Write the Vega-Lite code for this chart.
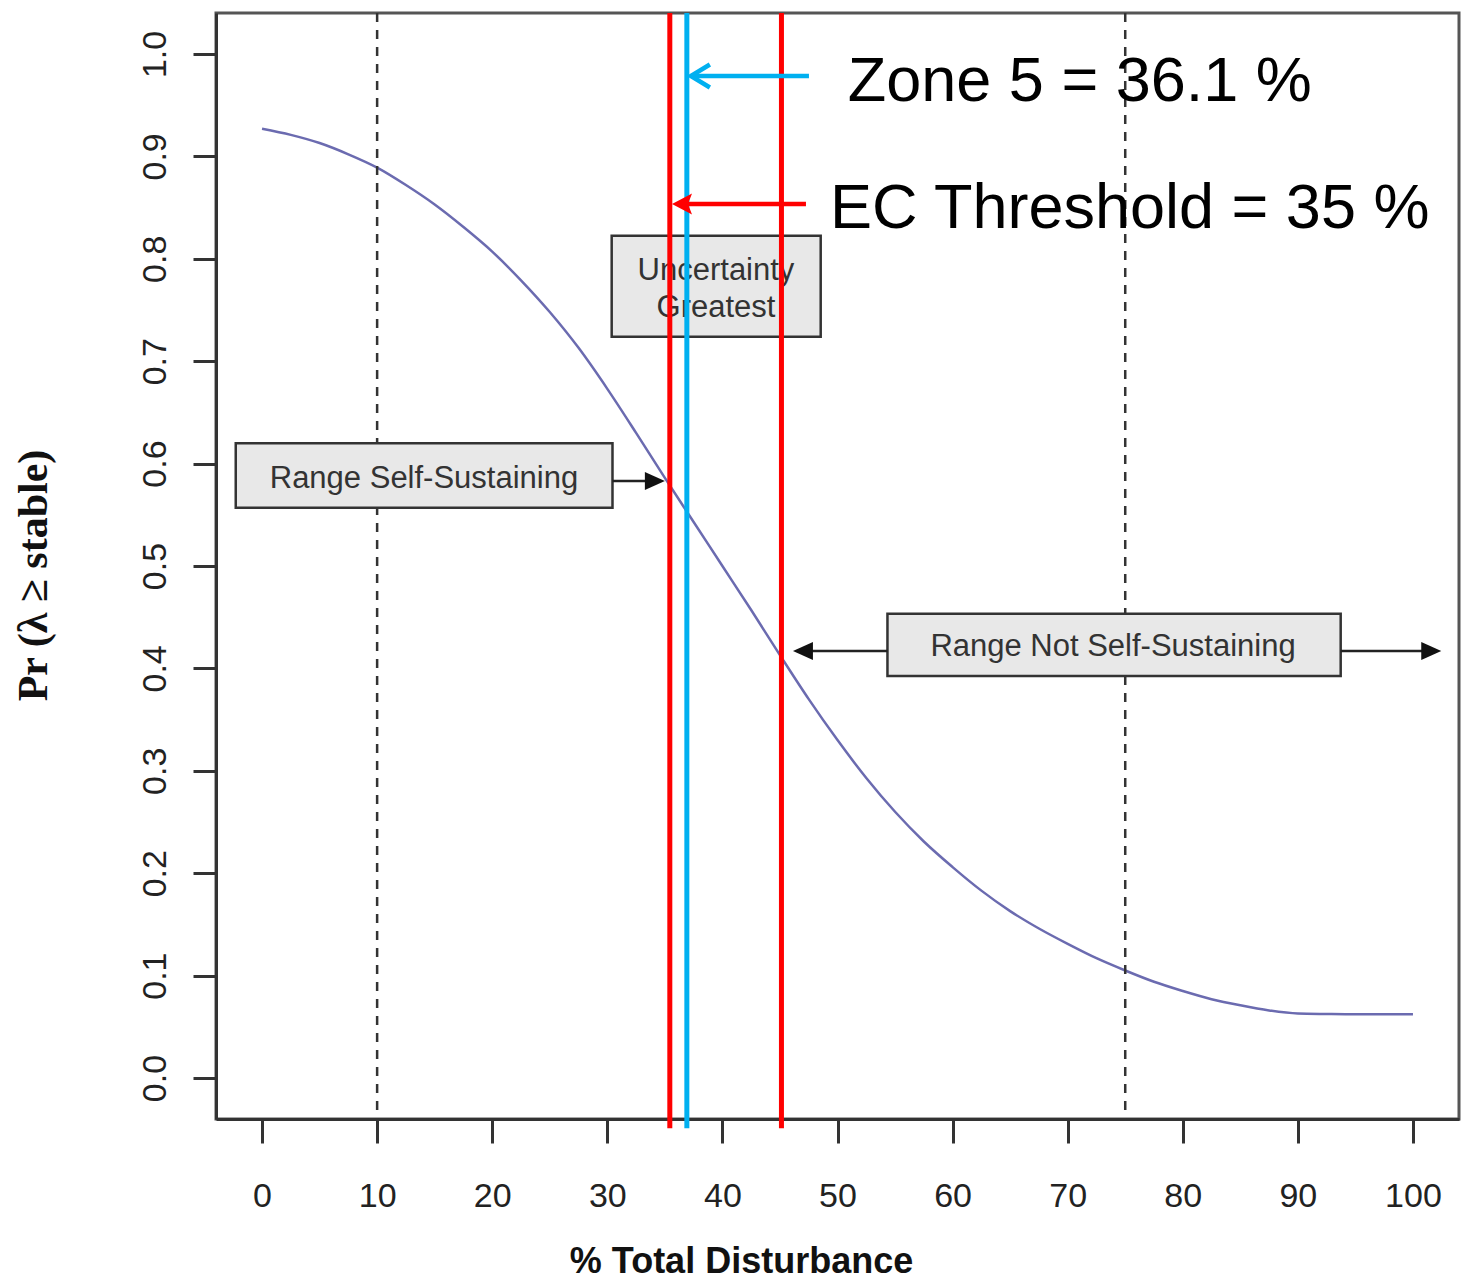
{
  "$schema": "https://vega.github.io/schema/vega-lite/v6.json",
  "autosize": "none",
  "width": 1243,
  "height": 1106,
  "padding": {"left": 216, "top": 13, "right": 4, "bottom": 162},
  "background": "white",
  "config": {"view": {"stroke": "#555", "strokeWidth": 3}},
  "datasets": {
    "curve": [
      {"x": 0, "y": 0.927}, {"x": 2.5, "y": 0.921}, {"x": 5, "y": 0.913}, {"x": 7.5, "y": 0.902},
      {"x": 10, "y": 0.889}, {"x": 12.5, "y": 0.872}, {"x": 15, "y": 0.853}, {"x": 17.5, "y": 0.831},
      {"x": 20, "y": 0.807}, {"x": 22.5, "y": 0.779}, {"x": 25, "y": 0.748}, {"x": 27.5, "y": 0.713},
      {"x": 30, "y": 0.673}, {"x": 32.5, "y": 0.630}, {"x": 35, "y": 0.586}, {"x": 37.5, "y": 0.543},
      {"x": 40, "y": 0.500}, {"x": 42.5, "y": 0.457}, {"x": 45, "y": 0.413}, {"x": 47.5, "y": 0.370},
      {"x": 50, "y": 0.330}, {"x": 52.5, "y": 0.293}, {"x": 55, "y": 0.260}, {"x": 57.5, "y": 0.231},
      {"x": 60, "y": 0.206}, {"x": 62.5, "y": 0.183}, {"x": 65, "y": 0.163}, {"x": 67.5, "y": 0.146},
      {"x": 70, "y": 0.131}, {"x": 72.5, "y": 0.117}, {"x": 75, "y": 0.105}, {"x": 77.5, "y": 0.094},
      {"x": 80, "y": 0.085}, {"x": 82.5, "y": 0.077}, {"x": 85, "y": 0.071}, {"x": 87.5, "y": 0.066},
      {"x": 90, "y": 0.063}, {"x": 92.5, "y": 0.0625}, {"x": 95, "y": 0.0622}, {"x": 97.5, "y": 0.0622},
      {"x": 100, "y": 0.0622}
    ],
    "refs": [{"x": 10}, {"x": 75}],
    "boxes": [
      {"x": 30.38, "x2": 48.54, "y": 0.8226, "y2": 0.7238},
      {"x": -2.285, "x2": 30.45, "y": 0.6198, "y2": 0.557},
      {"x": 54.34, "x2": 93.72, "y": 0.4534, "y2": 0.3926}
    ],
    "boxText": [
      {"x": 39.44, "y": 0.788, "label": "Uncertainty\nGreatest"},
      {"x": 14.07, "y": 0.585, "label": "Range Self-Sustaining"},
      {"x": 73.94, "y": 0.421, "label": "Range Not Self-Sustaining"}
    ],
    "arrows": [
      {"x": 30.45, "x2": 34.0, "y": 0.583},
      {"x": 54.34, "x2": 47.0, "y": 0.417},
      {"x": 93.72, "x2": 101.5, "y": 0.417}
    ],
    "headsRight": [{"x": 35.0, "y": 0.583}, {"x": 102.46, "y": 0.417}],
    "headsLeft": [{"x": 46.13, "y": 0.417}],
    "vlines": [
      {"x": 35.43, "line": "EC threshold"},
      {"x": 45.13, "line": "EC threshold"},
      {"x": 36.91, "line": "Zone 5"}
    ],
    "blueArrow": [{"x": 37.26, "x2": 47.52, "y": 0.9785}],
    "redArrow": [{"x": 36.8, "x2": 47.26, "y": 0.8535}],
    "redHead": [{"x": 35.62, "y": 0.8535}],
    "blueHead": [{"x": 37.26, "y": 0.9785}],
    "labels": [
      {"x": 50.89, "y": 0.9541, "label": "Zone 5 = 36.1 %"},
      {"x": 49.35, "y": 0.8301, "label": "EC Threshold = 35 %"}
    ]
  },
  "layer": [
    {
      "data": {"name": "curve"},
      "mark": {"type": "line", "color": "#6b6bb0", "strokeWidth": 2.5, "interpolate": "monotone"},
      "encoding": {
        "x": {
          "field": "x", "type": "quantitative",
          "scale": {"domain": [-4, 104], "nice": false, "zero": false},
          "axis": {
            "values": [0, 10, 20, 30, 40, 50, 60, 70, 80, 90, 100],
            "title": "% Total Disturbance",
            "grid": false,
            "domainColor": "#333", "domainWidth": 3,
            "tickColor": "#333", "tickWidth": 3, "tickSize": 24,
            "labelFont": "Liberation Sans", "labelFontSize": 34, "labelColor": "#222",
            "labelPadding": 36, "labelOverlap": false, "labelFlush": false,
            "titleFont": "Liberation Sans", "titleFontSize": 36, "titleFontWeight": "bold", "titleColor": "#111",
            "titleX": 525, "titleY": 153, "titleAlign": "center", "titleBaseline": "alphabetic"
          }
        },
        "y": {
          "field": "y", "type": "quantitative",
          "scale": {"domain": [-0.04, 1.04], "nice": false, "zero": false},
          "axis": {
            "values": [0, 0.1, 0.2, 0.3, 0.4, 0.5, 0.6, 0.7, 0.8, 0.9, 1.0],
            "format": ".1f",
            "title": "Pr (λ ≥ stable)",
            "grid": false,
            "domainColor": "#333", "domainWidth": 3,
            "tickColor": "#333", "tickWidth": 3, "tickSize": 23,
            "labelFont": "Liberation Sans", "labelFontSize": 34, "labelColor": "#222",
            "labelAngle": 270, "labelAlign": "center", "labelBaseline": "alphabetic",
            "labelPadding": 28, "labelOverlap": false, "labelFlush": false, "labelBound": false,
            "titleFont": "Liberation Serif", "titleFontSize": 42, "titleFontWeight": "bold", "titleColor": "#111",
            "titleAngle": 270, "titleX": -170, "titleY": 562, "titleAlign": "center", "titleBaseline": "alphabetic"
          }
        }
      }
    },
    {
      "data": {"name": "refs"},
      "mark": {"type": "rule", "color": "#333", "strokeWidth": 2.5, "strokeDash": [9, 8]},
      "encoding": {"x": {"field": "x", "type": "quantitative"}}
    },
    {
      "data": {"name": "boxes"},
      "mark": {"type": "rect", "fill": "#e8e8e8", "stroke": "#333", "strokeWidth": 2.5},
      "encoding": {
        "x": {"field": "x", "type": "quantitative"},
        "x2": {"field": "x2"},
        "y": {"field": "y", "type": "quantitative"},
        "y2": {"field": "y2"}
      }
    },
    {
      "data": {"name": "boxText"},
      "mark": {"type": "text", "font": "Liberation Sans", "fontSize": 31, "color": "#333", "align": "center", "baseline": "middle", "lineBreak": "\n", "lineHeight": 37},
      "encoding": {
        "x": {"field": "x", "type": "quantitative"},
        "y": {"field": "y", "type": "quantitative"},
        "text": {"field": "label"}
      }
    },
    {
      "data": {"name": "arrows"},
      "mark": {"type": "rule", "color": "#222", "strokeWidth": 2.5},
      "encoding": {
        "x": {"field": "x", "type": "quantitative"},
        "x2": {"field": "x2"},
        "y": {"field": "y", "type": "quantitative"}
      }
    },
    {
      "data": {"name": "headsRight"},
      "mark": {"type": "point", "shape": "M0,0 L-2,-0.9 L-2,0.9 Z", "size": 400, "filled": true, "color": "#111", "opacity": 1, "strokeWidth": 0},
      "encoding": {
        "x": {"field": "x", "type": "quantitative"},
        "y": {"field": "y", "type": "quantitative"}
      }
    },
    {
      "data": {"name": "headsLeft"},
      "mark": {"type": "point", "shape": "M0,0 L2,-0.9 L2,0.9 Z", "size": 400, "filled": true, "color": "#111", "opacity": 1, "strokeWidth": 0},
      "encoding": {
        "x": {"field": "x", "type": "quantitative"},
        "y": {"field": "y", "type": "quantitative"}
      }
    },
    {
      "data": {"name": "vlines"},
      "mark": {"type": "rule", "strokeWidth": 5},
      "encoding": {
        "x": {"field": "x", "type": "quantitative"},
        "y": {"datum": 1.04, "type": "quantitative"},
        "y2": {"datum": -0.049},
        "color": {"field": "line", "type": "nominal", "scale": {"domain": ["EC threshold", "Zone 5"], "range": ["#ff0000", "#00b0f0"]}, "legend": null}
      }
    },
    {
      "data": {"name": "blueArrow"},
      "mark": {"type": "rule", "color": "#00b0f0", "strokeWidth": 4.5},
      "encoding": {
        "x": {"field": "x", "type": "quantitative"},
        "x2": {"field": "x2"},
        "y": {"field": "y", "type": "quantitative"}
      }
    },
    {
      "data": {"name": "blueHead"},
      "mark": {"type": "point", "shape": "M1.9,-1.15 L0,0 L1.9,1.15", "size": 400, "filled": false, "color": "#00b0f0", "opacity": 1, "strokeWidth": 4.5},
      "encoding": {
        "x": {"field": "x", "type": "quantitative"},
        "y": {"field": "y", "type": "quantitative"}
      }
    },
    {
      "data": {"name": "redArrow"},
      "mark": {"type": "rule", "color": "#ff0000", "strokeWidth": 4.5},
      "encoding": {
        "x": {"field": "x", "type": "quantitative"},
        "x2": {"field": "x2"},
        "y": {"field": "y", "type": "quantitative"}
      }
    },
    {
      "data": {"name": "redHead"},
      "mark": {"type": "point", "shape": "M0,0 L2,-1.05 L1.6,0 L2,1.05 Z", "size": 400, "filled": true, "color": "#ff0000", "opacity": 1, "strokeWidth": 0},
      "encoding": {
        "x": {"field": "x", "type": "quantitative"},
        "y": {"field": "y", "type": "quantitative"}
      }
    },
    {
      "data": {"name": "labels"},
      "mark": {"type": "text", "font": "Liberation Sans", "fontSize": 63, "color": "#000", "align": "left", "baseline": "alphabetic"},
      "encoding": {
        "x": {"field": "x", "type": "quantitative"},
        "y": {"field": "y", "type": "quantitative"},
        "text": {"field": "label"}
      }
    }
  ]
}
